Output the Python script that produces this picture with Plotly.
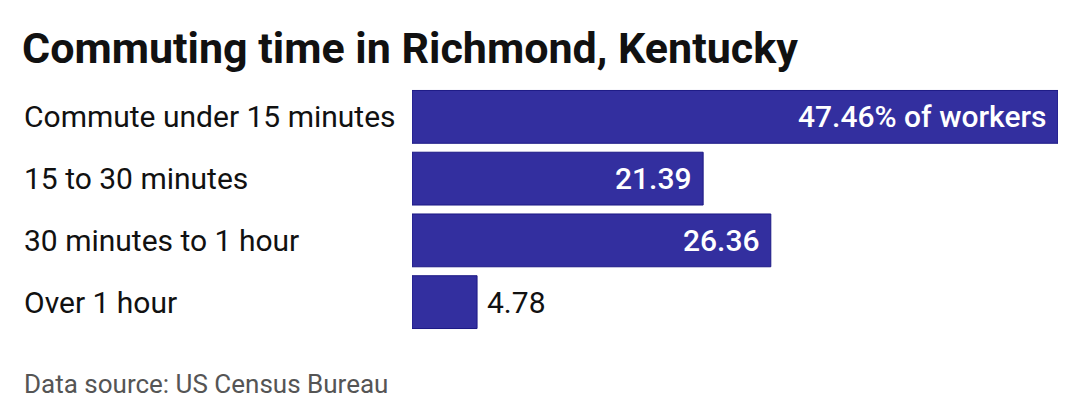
import plotly.graph_objects as go

# data
categories = ["Commute under 15 minutes", "15 to 30 minutes",
              "30 minutes to 1 hour", "Over 1 hour"]
shares = [47.46, 21.39, 26.36, 4.78]
value_labels = ["47.46% of workers", "21.39", "26.36", "4.78"]

BAR_COLOR = "#332f9f"
FONT = "Roboto"
LEFT = 404   # plot area starts here
WIDTH = 646  # plot area width
LABEL_X = (14 - LEFT) / WIDTH

fig = go.Figure(go.Bar(
    x=shares,
    y=categories,
    orientation="h",
    marker=dict(color=BAR_COLOR, line=dict(color="#1c1985", width=1)),
    hoverinfo="skip",
))

# value labels: inside (white, medium) for wide bars, outside (black) for the small one
for cat, val, lab in zip(categories, shares, value_labels):
    inside = val > 10
    fig.add_annotation(
        x=val, y=cat, xref="x", yref="y", text=lab, showarrow=False,
        xanchor="right" if inside else "left",
        xshift=-9 if inside else 8,
        font=dict(family=FONT, size=30, color="white" if inside else "#111",
                  weight=500 if inside else 400),
    )

# left-aligned category labels
for cat in categories:
    fig.add_annotation(
        x=LABEL_X, y=cat, xref="paper", yref="y", text=cat,
        showarrow=False, xanchor="left",
        font=dict(family=FONT, size=30, color="#111"),
    )

fig.add_annotation(
    x=LABEL_X, y=0, xref="paper", yref="paper", yanchor="middle",
    yshift=-50.5, text="Data source: US Census Bureau", showarrow=False,
    xanchor="left", font=dict(family=FONT, size=26, color="#555"),
)

fig.update_layout(
    width=1080, height=420,
    margin=dict(l=LEFT, r=1080 - LEFT - WIDTH, t=77.5, b=94.5),
    paper_bgcolor="white", plot_bgcolor="white",
    title=dict(text="<b>Commuting time in Richmond, Kentucky</b>",
               x=14 / 1080, xanchor="left", y=1 - 40 / 420, yanchor="middle",
               font=dict(family=FONT, size=43, color="#111")),
    bargap=0.145,
    showlegend=False,
    xaxis=dict(range=[0, max(shares)], visible=False, fixedrange=True),
    yaxis=dict(autorange="reversed", visible=False, fixedrange=True),
)

fig.write_html("out.html")
